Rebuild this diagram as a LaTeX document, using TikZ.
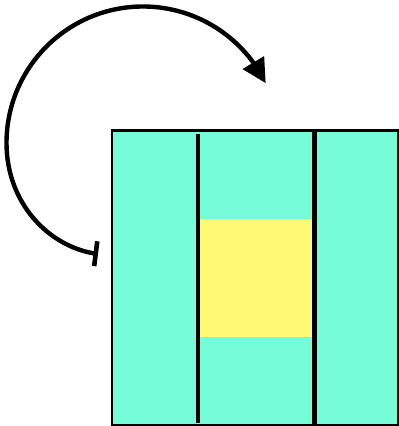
\documentclass[tikz,border=0pt]{standalone}
\usetikzlibrary{arrows.meta,bending}
\definecolor{panel}{RGB}{118,252,214}
\definecolor{core}{RGB}{255,250,115}
\tikzset{
  frame/.style={fill=panel,draw=black,line width=2.8pt},
  divider/.style={draw=black,line width=4.6pt},
  corebox/.style={fill=core,draw=none},
  loop/.style={draw=black,line width=4.4pt,
    {Bar[width=25pt,line width=4.6pt]}-{Triangle[length=24pt,width=24pt]}}
}
\begin{document}
\begin{tikzpicture}[x=1pt,y=1pt]
\useasboundingbox (0,0) rectangle (399,426);
% outer frame
\path[frame] (112,1) rectangle (398.8,295.5);
% yellow core
\path[corebox] (200,89) rectangle (313,207);
% dividers
\draw[divider] (198,3.3) -- (198,292);
\draw[divider] (314.5,0) -- (314.5,296.5);
% looping arrow
\coordinate (tee) at (98,172);
\coordinate (left) at (6.5,283);
\draw[loop] (tee) .. controls (50,178) and (6.5,222) .. (left)
  arc[start angle=180,end angle=26,radius=136.5];
\end{tikzpicture}
\end{document}
